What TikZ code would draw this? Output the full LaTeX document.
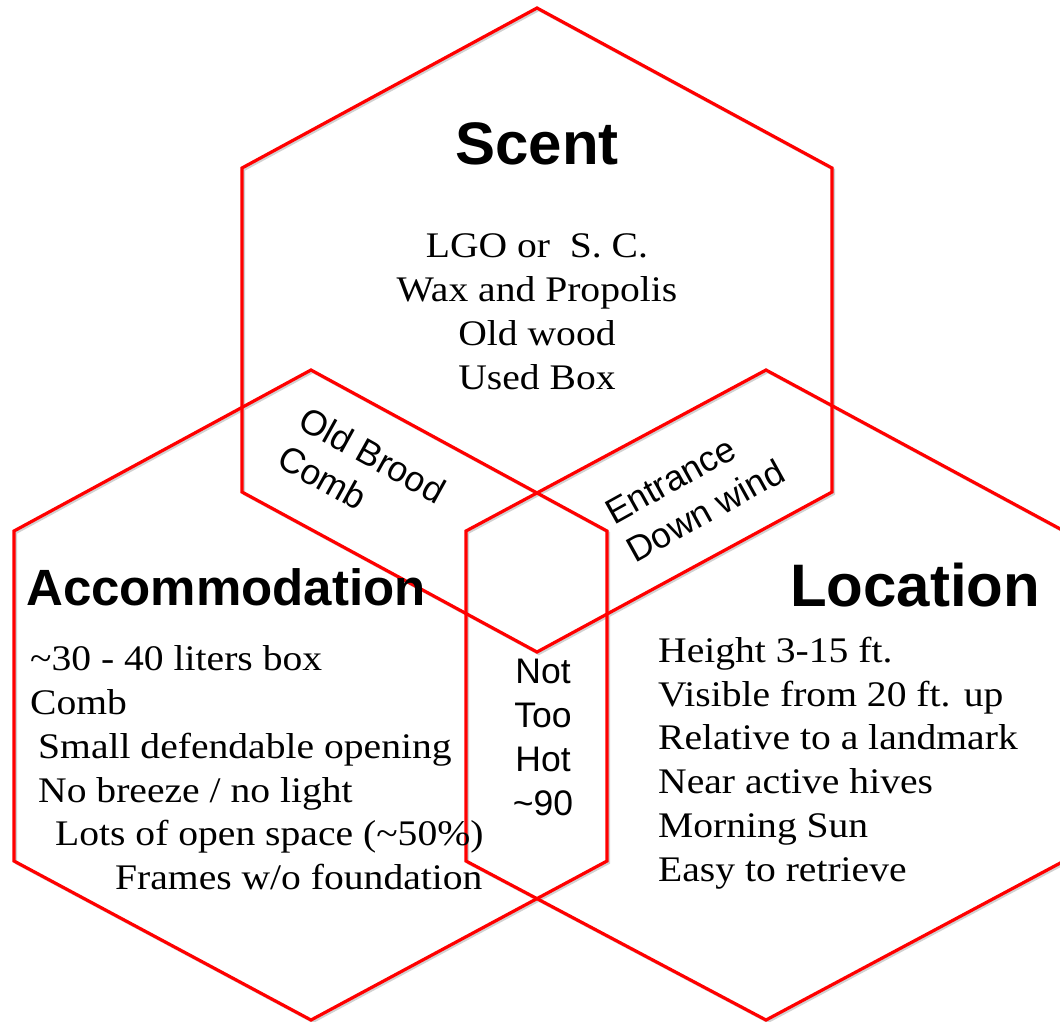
\documentclass[tikz,border=0pt]{standalone}
\usepackage{fontspec}
\setmainfont[FakeStretch=1.1]{Liberation Serif}
\setsansfont{Liberation Sans}
\begin{document}
\begin{tikzpicture}[x=1pt,y=-1pt,
  hex/.style={draw=red, line width=3.2pt, line join=miter},
  shadowhex/.style={draw=black!18, line width=2.6pt, line join=miter},
  head/.style={font=\sffamily\bfseries\fontsize{60}{60}\selectfont, inner sep=0pt, anchor=base},
  item/.style={font=\fontsize{36}{44}\selectfont, inner sep=0pt},
  overlap/.style={font=\sffamily\fontsize{35.5}{44}\selectfont, inner sep=0pt, align=left}]
\useasboundingbox (0,0) rectangle (1060,1021);
% shadows
\begin{scope}[shift={(1.8,1.8)}]
\draw[shadowhex] (537,8) -- (832,168) -- (832,492) -- (537,652) -- (242,492) -- (242,168) -- cycle;
\draw[shadowhex] (311,370) -- (607,531) -- (607,861) -- (311,1020) -- (14,861) -- (14,531) -- cycle;
\draw[shadowhex] (766,370) -- (1064,531) -- (1064,861) -- (766,1020) -- (466,861) -- (466,531) -- cycle;
\end{scope}
% hexagons
\draw[hex] (537,8) -- (832,168) -- (832,492) -- (537,652) -- (242,492) -- (242,168) -- cycle;
\draw[hex] (311,370) -- (607,531) -- (607,861) -- (311,1020) -- (14,861) -- (14,531) -- cycle;
\draw[hex] (766,370) -- (1064,531) -- (1064,861) -- (766,1020) -- (466,861) -- (466,531) -- cycle;

% headings
\node[head] (scent) at (537,164) {Scent};
\node[head, font=\sffamily\bfseries\fontsize{51}{51}\selectfont] (accom) at (226,605) {Accommodation};
\node[head] (loc) at (915,606) {Location};

% scent list
\node[item, anchor=base] (s1) at (537,257) {LGO or\ \ S. C.};
\node[item, anchor=base] (s2) at (537,301) {Wax and Propolis};
\node[item, anchor=base] (s3) at (537,345) {Old wood};
\node[item, anchor=base] (s4) at (537,389) {Used Box};

% location list
\node[item, anchor=base west] (l1) at (658,662) {Height 3-15 ft.};
\node[item, anchor=base west] (l2) at (658,706) {Visible from 20 ft. up};
\node[item, anchor=base west] (l3) at (658,749) {Relative to a landmark};
\node[item, anchor=base west] (l4) at (658,793) {Near active hives};
\node[item, anchor=base west] (l5) at (658,837) {Morning Sun};
\node[item, anchor=base west] (l6) at (658,881) {Easy to retrieve};

% accommodation list
\node[item, anchor=base west] (a1) at (30,670) {\textasciitilde30 - 40 liters box};
\node[item, anchor=base west] (a2) at (30,714) {Comb};
\node[item, anchor=base west] (a3) at (38,758) {Small defendable opening};
\node[item, anchor=base west] (a4) at (38,802) {No breeze / no light};
\node[item, anchor=base west] (a5) at (55,845) {Lots of open space (\textasciitilde50\%)};
\node[item, anchor=base west] (a6) at (115,889) {Frames w/o foundation};

% overlaps
\node[overlap, rotate=-29] (obc) at (362,474) {Old Brood\\Comb};
\node[overlap, rotate=29] (edw) at (695,492) {Entrance\\Down wind};
\node[overlap, align=center, anchor=north] (nth) at (543,659) {Not\\Too\\Hot\\\textasciitilde90};
\end{tikzpicture}
\end{document}
